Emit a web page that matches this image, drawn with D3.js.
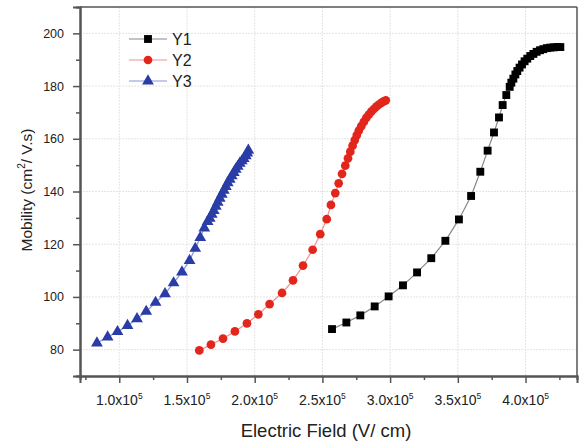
<!DOCTYPE html>
<html><head><meta charset="utf-8">
<script src="https://cdn.jsdelivr.net/npm/d3@7/dist/d3.min.js"></script>
<style>body{margin:0;background:#fff}svg{display:block;font-family:"Liberation Sans",Arial,sans-serif}</style>
</head><body><svg id="c" width="579" height="443"></svg>
<script>
const y1x=[2.571e5,2.677e5,2.780e5,2.886e5,2.989e5,3.095e5,3.199e5,3.304e5,3.408e5,3.508e5,3.598e5,3.666e5,3.720e5,3.767e5,3.804e5,3.831e5,3.858e5,3.883e5,3.895e5,3.910e5,3.925e5,3.939e5,3.956e5,3.974e5,3.993e5,4.013e5,4.035e5,4.058e5,4.082e5,4.107e5,4.131e5,4.157e5,4.183e5,4.209e5,4.235e5,4.257e5];
const y1v=[87.8,90.3,93.0,96.4,100.2,104.4,109.3,114.7,121.3,129.4,138.3,147.5,155.5,162.4,168.1,172.8,176.6,179.7,181.3,182.8,184.4,185.7,187.0,188.2,189.4,190.4,191.4,192.2,193.0,193.6,194.0,194.4,194.6,194.7,194.8,194.8];
const y2x=[1.591e5,1.677e5,1.766e5,1.854e5,1.943e5,2.027e5,2.110e5,2.202e5,2.283e5,2.357e5,2.428e5,2.484e5,2.532e5,2.563e5,2.595e5,2.620e5,2.645e5,2.669e5,2.689e5,2.706e5,2.723e5,2.739e5,2.754e5,2.769e5,2.787e5,2.806e5,2.824e5,2.843e5,2.861e5,2.880e5,2.898e5,2.917e5,2.935e5,2.953e5,2.968e5];
const y2v=[79.7,81.9,84.2,86.9,90.0,93.4,97.3,101.5,106.3,111.9,117.9,123.8,129.5,134.9,139.4,143.1,146.7,149.8,152.6,155.1,157.4,159.5,161.4,163.1,164.8,166.4,167.9,169.2,170.3,171.3,172.2,173.0,173.6,174.2,174.6];
const y3x=[0.835e5,0.914e5,0.987e5,1.061e5,1.131e5,1.199e5,1.268e5,1.338e5,1.401e5,1.463e5,1.519e5,1.561e5,1.598e5,1.628e5,1.652e5,1.668e5,1.683e5,1.698e5,1.713e5,1.727e5,1.742e5,1.757e5,1.772e5,1.787e5,1.801e5,1.816e5,1.831e5,1.846e5,1.860e5,1.875e5,1.890e5,1.905e5,1.919e5,1.934e5,1.945e5,1.953e5];
const y3v=[82.5,84.8,86.8,89.1,91.7,94.5,97.9,101.2,105.3,109.4,113.8,118.4,122.5,126.1,128.6,129.8,131.3,132.8,134.4,135.9,137.4,138.9,140.4,141.9,143.3,144.6,145.9,147.2,148.4,149.5,150.7,151.6,152.5,153.5,154.6,155.6];
const seriesNames=["Y1","Y2","Y3"];
const xTicks=[1.0e5,1.5e5,2.0e5,2.5e5,3.0e5,3.5e5,4.0e5];
const xTickLabels=["1.0","1.5","2.0","2.5","3.0","3.5","4.0"];
const yTicks=[80,100,120,140,160,180,200];
const xTitle="Electric Field (V/ cm)";

const svg=d3.select("#c");
const L=80,R=577,T=7,B=376;
const x=d3.scaleLinear().domain([0.71e5,4.38e5]).range([L,R]);
const y=d3.scaleLinear().domain([70,210]).range([B,T]);

// grid
const g=svg.append("g");
xTicks.forEach(t=>g.append("line").attr("x1",x(t)).attr("x2",x(t)).attr("y1",T).attr("y2",B).attr("stroke","#e4e4e4").attr("stroke-width",1).attr("stroke-dasharray","2,1"));
yTicks.forEach(t=>g.append("line").attr("x1",L).attr("x2",R).attr("y1",y(t)).attr("y2",y(t)).attr("stroke","#e4e4e4").attr("stroke-width",1).attr("stroke-dasharray","2,1"));

// frame
svg.append("line").attr("x1",L).attr("x2",R).attr("y1",T).attr("y2",T).attr("stroke","#555").attr("stroke-width",1.5);
svg.append("line").attr("x1",R).attr("x2",R).attr("y1",T).attr("y2",B).attr("stroke","#555").attr("stroke-width",1.5);

// axes
const xMinor=d3.range(0.75e5,4.38e5,0.5e5);
const xa=svg.append("g").attr("transform",`translate(0,${B})`);
xa.call(d3.axisBottom(x).tickValues(xMinor).tickSize(4).tickFormat(""));
const xb=svg.append("g").attr("transform",`translate(0,${B})`);
xb.call(d3.axisBottom(x).tickValues(xTicks).tickSize(7).tickFormat(""));
[xa,xb].forEach(a=>{a.select(".domain").attr("stroke","#555").attr("stroke-width",2);a.selectAll(".tick line").attr("stroke","#555").attr("stroke-width",1.5);});
xTicks.forEach((t,i)=>{
  const tx=svg.append("text").attr("x",x(t)).attr("y",405).attr("text-anchor","middle").attr("font-size",14).attr("fill","#222");
  tx.append("tspan").text(xTickLabels[i]+"x10");
  tx.append("tspan").attr("dy",-6).attr("font-size",8.5).text("5");
});
const yMinor=d3.range(70,210,10).filter(v=>v%20!==0);
const ya=svg.append("g").attr("transform",`translate(${L},0)`);
ya.call(d3.axisLeft(y).tickValues(yMinor).tickSize(4).tickFormat(""));
const yb=svg.append("g").attr("transform",`translate(${L},0)`);
yb.call(d3.axisLeft(y).tickValues(yTicks).tickSize(7).tickPadding(9).tickFormat(d3.format("d")));
[ya,yb].forEach(a=>{a.select(".domain").attr("stroke","#555").attr("stroke-width",2);a.selectAll(".tick line").attr("stroke","#555").attr("stroke-width",1.5);});
yb.selectAll(".tick text").attr("font-size",12.5).attr("fill","#222").attr("font-family","Liberation Sans, Arial, sans-serif");

svg.append("text").attr("x",326).attr("y",437).attr("text-anchor","middle").attr("font-size",18.5).attr("fill","#222").text(xTitle);
const yt=svg.append("text").attr("transform",`translate(32,190) rotate(-90)`).attr("text-anchor","middle").attr("font-size",15.5).attr("fill","#222");
yt.append("tspan").text("Mobility (cm");
yt.append("tspan").attr("dy",-7).attr("font-size",10).text("2");
yt.append("tspan").attr("dy",7).text("/ V.s)");

// series
const series=[
 {name:seriesNames[0],xs:y1x,ys:y1v,color:"#000",line:"#888",shape:d3.symbolSquare,size:62},
 {name:seriesNames[1],xs:y2x,ys:y2v,color:"#e3261c",line:"#f09090",shape:d3.symbolCircle,size:60},
 {name:seriesNames[2],xs:y3x,ys:y3v,color:"#2a3ca6",line:"#8a96d8",shape:d3.symbolTriangle,size:60}
];
const line=d3.line().x(d=>x(d[0])).y(d=>y(d[1]));
series.forEach(s=>{
  const pts=s.xs.map((v,i)=>[v,s.ys[i]]);
  svg.append("path").attr("d",line(pts)).attr("fill","none").attr("stroke",s.line).attr("stroke-width",1.2);
  svg.append("g").selectAll("path").data(pts).join("path")
    .attr("transform",d=>`translate(${x(d[0])},${y(d[1])})`)
    .attr("d",d3.symbol().type(s.shape).size(s.size)).attr("fill",s.color);
});

// legend
series.forEach((s,i)=>{
  const ly=39+i*21;
  svg.append("line").attr("x1",129).attr("x2",167).attr("y1",ly).attr("y2",ly).attr("stroke",s.line).attr("stroke-width",1.2);
  svg.append("path").attr("transform",`translate(148,${ly})`).attr("d",d3.symbol().type(s.shape).size(s.size)).attr("fill",s.color);
  svg.append("text").attr("x",172).attr("y",ly+5.5).attr("font-size",16).attr("fill","#222").text(s.name);
});
</script></body></html>
